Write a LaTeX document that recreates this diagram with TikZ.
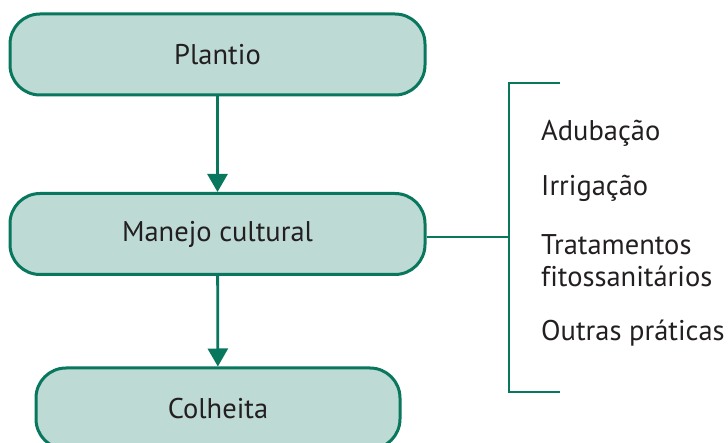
\documentclass[tikz,border=0pt]{standalone}
\usepackage{fontspec}
\setmainfont{PT Sans}[Ligatures=NoCommon]
\usetikzlibrary{arrows.meta}
\definecolor{boxfill}{HTML}{BDDAD4}
\definecolor{boxline}{HTML}{08775E}
\definecolor{txt}{HTML}{231F20}
\tikzset{
  stagebox/.style={draw=boxline, fill=boxfill, line width=3pt, rounded corners=30pt,
    minimum height=81pt, text=txt, font=\fontsize{28.5}{32}\selectfont, inner sep=0pt},
  item/.style={anchor=west, align=left, text=txt, inner sep=0pt,
    font=\fontsize{28.5}{32}\selectfont},
  link/.style={boxline, line width=2.8pt},
}
\begin{document}
\begin{tikzpicture}[x=1pt,y=-1pt]
      \useasboundingbox (0,0) rectangle (728,443);
      \draw
        (217.5,54.5) node[stagebox, minimum width=415pt] (plantio){Plantio}
        (217.5,234) node[stagebox, minimum width=415pt] (manejo){Manejo cultural}
        (218,408.5) node[stagebox, minimum width=364pt] (colheita){Colheita};
      \draw
        (541,133) node[item] (adubacao){Adubação}
        (541,188) node[item] (irrigacao){Irrigação}
        (541,261) node[item] (tratamentos){Tratamentos\\fitossanitários}
        (541,333) node[item] (outras){Outras práticas};
      \coordinate (bmid) at (509,237);
      \coordinate (btop) at (560,83);
      \coordinate (bbot) at (560,392);
      \begin{scope}[link, -{Triangle[width=20pt,length=18pt]}]
        \draw (plantio) to (manejo);
        \draw (manejo) to (colheita);
      \end{scope}
      \begin{scope}[link]
        \draw (manejo.east |- bmid) to (bmid);
        \draw (btop) -- (bmid |- btop) -- (bmid |- bbot) -- (bbot);
      \end{scope}
    \end{tikzpicture}
\end{document}
